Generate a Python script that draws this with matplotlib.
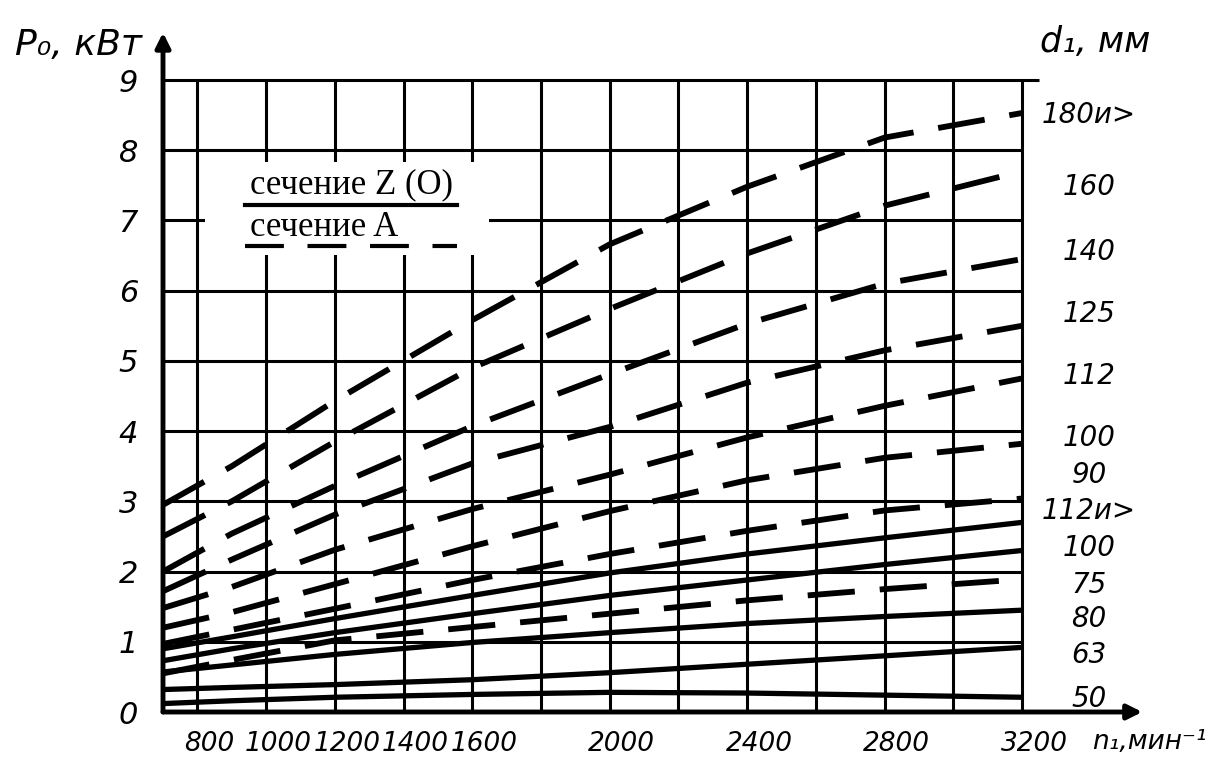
import matplotlib
matplotlib.use('Agg')
import matplotlib.pyplot as plt
from matplotlib.patches import Rectangle
from matplotlib.transforms import ScaledTranslation

plt.rcParams['font.family'] = ['DejaVu Sans']
plt.rcParams['lines.scale_dashes'] = False

# частота вращения, мин^-1
n_pts = [700, 900, 1200, 1600, 2000, 2400, 2800, 3200]

# сечение A (штриховые), P0, кВт
a_180 = [2.95, 3.50, 4.43, 5.58, 6.66, 7.48, 8.18, 8.53]
a_160 = [2.50, 3.00, 3.85, 4.90, 5.74, 6.53, 7.21, 7.70]
a_140 = [2.00, 2.54, 3.22, 4.07, 4.81, 5.53, 6.10, 6.45]
a_125 = [1.72, 2.17, 2.81, 3.54, 4.06, 4.69, 5.15, 5.50]
a_112 = [1.48, 1.78, 2.31, 2.89, 3.38, 3.91, 4.36, 4.75]
a_100 = [1.20, 1.42, 1.82, 2.36, 2.86, 3.30, 3.62, 3.82]
a_90 = [0.97, 1.17, 1.47, 1.88, 2.25, 2.58, 2.87, 3.04]
a_75 = [0.55, 0.74, 1.02, 1.21, 1.40, 1.59, 1.75, 1.89]

# сечение Z (O) (сплошные)
z_112 = [0.90, 1.07, 1.33, 1.66, 1.98, 2.25, 2.48, 2.70]
z_100 = [0.73, 0.90, 1.13, 1.40, 1.66, 1.88, 2.10, 2.30]
z_80 = [0.57, 0.67, 0.82, 0.99, 1.13, 1.26, 1.36, 1.45]
z_63 = [0.32, 0.35, 0.39, 0.46, 0.56, 0.68, 0.80, 0.92]
z_50 = [0.12, 0.16, 0.21, 0.25, 0.28, 0.27, 0.24, 0.21]

dashed_curves = [a_180, a_160, a_140, a_125, a_112, a_100, a_90, a_75]
solid_curves = [z_112, z_100, z_80, z_63, z_50]

d1_labels = ['180и>', '160', '140', '125', '112', '100', '90',
             '112и>', '100', '75', '80', '63', '50']
d1_label_p = [8.5, 7.48, 6.55, 5.67, 4.79, 3.9, 3.37,
              2.86, 2.34, 1.81, 1.32, 0.81, 0.18]

x_grid = list(range(800, 3201, 200))
x_ticklabels = ['800', '1000', '1200', '1400', '1600', '', '2000', '',
                '2400', '', '2800', '', '3200']
y_grid = list(range(0, 10))

fig = plt.figure(figsize=(12.16, 7.71), dpi=100)
ax = fig.add_axes([163 / 1216, 59 / 771, 859 / 1216, 632 / 771])
ax.set_xlim(700, 3200)
ax.set_ylim(0, 9)
for s in ax.spines.values():
    s.set_visible(False)

# сетка
ax.hlines(y_grid[1:-1], 700, 3200, color='k', lw=2.2, zorder=1)
ax.hlines([9], 700, 3250, color='k', lw=2.2, zorder=1, clip_on=False)
ax.vlines(x_grid, 0, 9, color='k', lw=2.2, zorder=1, clip_on=False)

# оси со стрелками
ax.annotate('', xy=(0, 1.075), xytext=(0, 0), xycoords='axes fraction',
            arrowprops=dict(arrowstyle='-|>', lw=3.5, color='k',
                            mutation_scale=22, shrinkA=0, shrinkB=0))
ax.annotate('', xy=(1.14, 0), xytext=(0, 0), xycoords='axes fraction',
            arrowprops=dict(arrowstyle='-|>', lw=3.5, color='k',
                            mutation_scale=22, shrinkA=0, shrinkB=0))

for p in solid_curves:
    ax.plot(n_pts, p, color='k', lw=3.8, solid_capstyle='butt', zorder=2)
for p in dashed_curves:
    ax.plot(n_pts, p, color='k', lw=4.2, dashes=(34, 18),
            dash_capstyle='butt', zorder=2)

ax.set_xticks(x_grid)
ax.set_xticklabels(x_ticklabels)
ax.set_yticks(y_grid)
ax.tick_params(length=0, labelsize=19)
ax.tick_params(axis='x', pad=14)
ax.tick_params(axis='y', pad=18)
shift = ScaledTranslation(12 / 100, 0, fig.dpi_scale_trans)
for lbl in ax.get_xticklabels():
    lbl.set_style('italic')
    lbl.set_transform(lbl.get_transform() + shift)
for lbl in ax.get_yticklabels():
    lbl.set_style('italic')
    lbl.set_fontsize(22)

# подписи диаметров справа
tr = ax.get_yaxis_transform()
for lbl, p in zip(d1_labels, d1_label_p):
    ax.text(1.078, p, lbl, transform=tr, ha='center', va='center',
            fontsize=20, style='italic', clip_on=False)

fig.text(15 / 1216, 1 - 45 / 771, 'P₀, кВт', fontsize=26, style='italic',
         va='center', ha='left')
fig.text(1040 / 1216, 1 - 42 / 771, 'd₁, мм', fontsize=25, style='italic',
         va='center', ha='left')
fig.text(1092 / 1216, 1 - 742 / 771, 'n₁,мин⁻¹', fontsize=19, style='italic',
         va='center', ha='left')

# легенда
ax.add_patch(Rectangle((0.049, 0.723), 0.33, 0.148, transform=ax.transAxes,
                       fc='white', ec='none', zorder=3))
ax.text(0.101, 0.82, 'сечение Z (O)', transform=ax.transAxes,
        family='Liberation Serif', fontsize=25, va='baseline', zorder=4)
ax.plot([0.095, 0.342], [0.803, 0.803], transform=ax.transAxes, color='k',
        lw=3, zorder=4)
ax.text(0.101, 0.753, 'сечение A', transform=ax.transAxes,
        family='Liberation Serif', fontsize=25, va='baseline', zorder=4)
ax.plot([0.095, 0.342], [0.737, 0.737], transform=ax.transAxes, color='k',
        lw=3, dashes=(28, 17), zorder=4)

fig.savefig('out.png', dpi=100, facecolor='white')
